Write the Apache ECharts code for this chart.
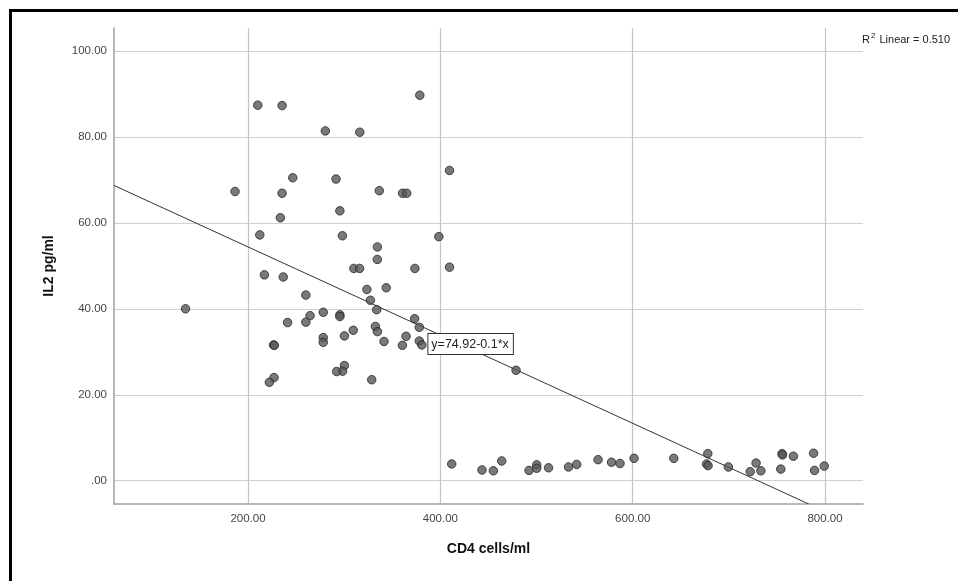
<!DOCTYPE html>
<html>
<head>
<meta charset="utf-8">
<script src="https://cdn.jsdelivr.net/npm/echarts@6/dist/echarts.min.js"></script>
<style>
  html, body { margin: 0; padding: 0; background: #fff; }
  #chart { width: 958px; height: 581px; }
</style>
</head>
<body>
<div id="chart"></div>
<script>
  // CD4 count vs IL2 level
  var cd4 = [
    210.1, 235.4, 280.4, 316.2, 378.6, 409.5, 246.5, 291.5, 186.5, 235.4,
    336.5, 360.7, 365.0, 295.5, 233.6, 212.2, 298.1, 398.4, 334.5, 334.4,
    310.0, 316.0, 373.5, 409.5, 217.0, 236.6, 323.6, 343.7, 260.1, 135.0,
    327.2, 333.8, 278.2, 264.5, 295.5, 295.5, 373.2, 260.1, 241.1, 378.1,
    332.4, 309.4, 334.5, 300.2, 364.3, 278.2, 278.2, 341.4, 378.1, 380.7,
    360.5, 226.5, 227.4, 300.2, 298.3, 292.2, 328.6, 227.0, 222.2, 478.7,
    411.8, 443.3, 455.1, 463.8, 492.2, 500.2, 500.2, 512.5, 533.3, 541.8,
    564.0, 578.0, 586.8, 601.4, 642.7, 678.1, 676.8, 678.4, 699.5, 722.2,
    728.3, 733.3, 755.3, 755.8, 767.1, 754.0, 788.1, 789.1, 799.2
  ];
  var il2 = [
    87.4, 87.3, 81.4, 81.1, 89.7, 72.2, 70.5, 70.2, 67.3, 66.9,
    67.5, 66.9, 66.9, 62.8, 61.2, 57.2, 57.0, 56.8, 54.4, 51.5,
    49.4, 49.4, 49.4, 49.7, 47.9, 47.4, 44.5, 44.9, 43.2, 40.0,
    42.0, 39.8, 39.2, 38.4, 38.6, 38.2, 37.7, 36.9, 36.8, 35.7,
    35.9, 35.0, 34.7, 33.7, 33.6, 33.3, 32.2, 32.4, 32.5, 31.6,
    31.5, 31.6, 31.5, 26.8, 25.5, 25.4, 23.5, 24.0, 22.9, 25.7,
    3.9, 2.5, 2.3, 4.6, 2.4, 3.7, 2.9, 3.0, 3.2, 3.8,
    4.9, 4.3, 4.0, 5.2, 5.2, 6.3, 3.9, 3.5, 3.2, 2.1,
    4.1, 2.3, 6.3, 6.0, 5.7, 2.7, 6.4, 2.4, 3.4
  ];
  var xTicks = [200, 400, 600, 800];
  var yTicks = [0, 20, 40, 60, 80, 100];
  var xRange = [60.6, 839.5];
  var yRange = [-5.42, 105.35];
  // fitted line as drawn (label rounds the slope)
  var fitIntercept = 74.92;
  var fitSlope = -0.1026;
  var fitLabel = 'y=74.92-0.1*x';

  var points = cd4.map(function (v, i) { return [v, il2[i]]; });
  var fitEndX = (yRange[0] - fitIntercept) / fitSlope;
  var fitLine = [
    [xRange[0], fitIntercept + fitSlope * xRange[0]],
    [fitEndX, yRange[0]]
  ];
  var labelX = 387;
  var labelAt = [labelX, fitIntercept + fitSlope * labelX];

  var font = 'Liberation Sans, Arial, sans-serif';

  var chart = echarts.init(document.getElementById('chart'));
  chart.setOption({
    backgroundColor: '#fff',
    animation: false,
    grid: { left: 114, right: 95, top: 28, bottom: 77 },
    xAxis: {
      type: 'value',
      min: xRange[0],
      max: xRange[1],
      name: 'CD4 cells/ml',
      nameLocation: 'middle',
      nameGap: 38,
      nameTextStyle: { fontFamily: font, fontSize: 14, fontWeight: 'bold', color: '#111' },
      axisLine: { onZero: false, lineStyle: { color: '#a0a0a0', width: 1.5 } },
      axisTick: { show: false, customValues: xTicks },
      axisLabel: {
        customValues: xTicks,
        fontFamily: font, fontSize: 11.5, color: '#444', margin: 9,
        formatter: function (v) { return v.toFixed(2); }
      },
      splitLine: { show: true, lineStyle: { color: '#c4c4c4', width: 1.2 } }
    },
    yAxis: {
      type: 'value',
      min: yRange[0],
      max: yRange[1],
      name: 'IL2 pg/ml',
      nameLocation: 'middle',
      nameGap: 58,
      nameTextStyle: { fontFamily: font, fontSize: 14, fontWeight: 'bold', color: '#111' },
      axisLine: { show: true, onZero: false, lineStyle: { color: '#a0a0a0', width: 1.5 } },
      axisTick: { show: false, customValues: yTicks },
      axisLabel: {
        customValues: yTicks,
        fontFamily: font, fontSize: 11.5, color: '#444', margin: 7,
        formatter: function (v) { return v === 0 ? '.00' : v.toFixed(2); }
      },
      splitLine: { show: true, lineStyle: { color: '#d0d0d0', width: 1.2 } }
    },
    series: [
      {
        type: 'line',
        data: fitLine,
        symbol: 'none',
        lineStyle: { color: '#333', width: 1 },
        z: 3,
        markPoint: {
          symbol: 'rect',
          symbolSize: 1,
          itemStyle: { color: 'rgba(0,0,0,0)' },
          data: [{ coord: labelAt }],
          label: {
            show: true,
            position: [1, 5],
            formatter: fitLabel,
            fontFamily: font,
            fontSize: 12.5,
            color: '#222',
            backgroundColor: '#fff',
            borderColor: '#333',
            borderWidth: 1,
            padding: [4, 4, 3, 3]
          }
        }
      },
      {
        type: 'scatter',
        data: points,
        symbolSize: 8.5,
        itemStyle: { color: '#585858', borderColor: '#262626', borderWidth: 1 },
        z: 4
      }
    ],
    graphic: [
      {
        type: 'rect',
        shape: { x: 10.5, y: 10.5, width: 1200, height: 1200 },
        style: { fill: null, stroke: '#000', lineWidth: 3 }
      },
      {
        type: 'text',
        x: 862, y: 29,
        style: {
          text: '{r|R}{s|2}{r| Linear = 0.510}',
          rich: {
            r: { fontFamily: font, fontSize: 11, fill: '#222', lineHeight: 16, verticalAlign: 'bottom' },
            s: { fontFamily: font, fontSize: 8, fill: '#222', lineHeight: 16, verticalAlign: 'bottom', padding: [0, 1, 5, 1] }
          }
        }
      }
    ]
  });
</script>
</body>
</html>
